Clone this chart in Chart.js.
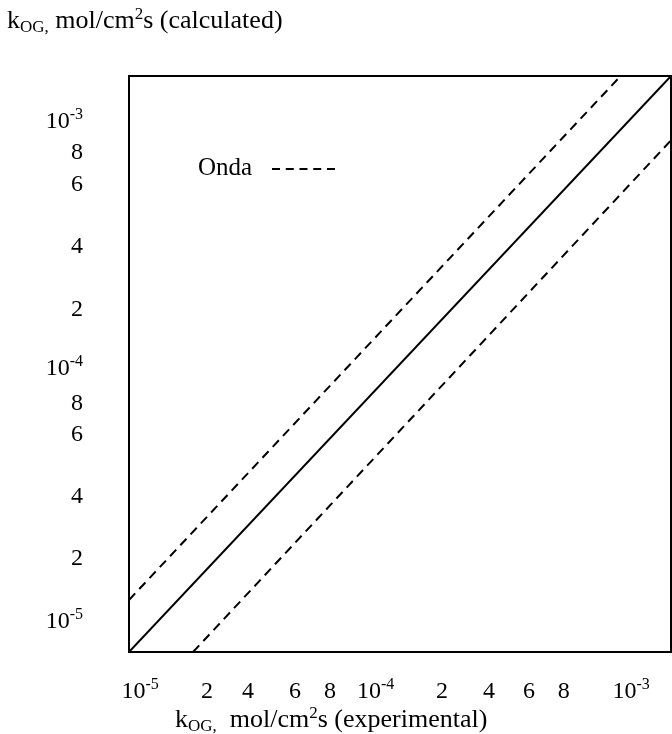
<!DOCTYPE html>
<html>
<head>
<meta charset="utf-8">
<script src="https://cdn.jsdelivr.net/npm/chart.js@4/dist/chart.umd.min.js"></script>
<style>
  body { margin: 0; background: #fff; }
</style>
</head>
<body>
<canvas id="grafico" width="672" height="734"></canvas>
<script>
// eixos log-log, mesma faixa nos dois
const axisMin = 1e-5;
const axisMax = 1.585e-3;

// linha de paridade e faixa de Onda
const paridade = [{ x: 1e-5, y: 1e-5 }, { x: 1.585e-3, y: 1.585e-3 }];
const ondaSup = [{ x: 1e-5, y: 1.58e-5 }, { x: 9.9e-4, y: 1.585e-3 }];
const ondaInf = [{ x: 1.82e-5, y: 1e-5 }, { x: 1.585e-3, y: 9.0e-4 }];

// rotulos dos eixos (onde cada rotulo fica na escala desenhada)
const xTickAt = [1.043e-5, 2.073e-5, 3.041e-5, 4.717e-5, 6.54e-5, 9.42e-5, 1.863e-4, 2.89e-4, 4.2e-4, 5.82e-4, 1.026e-3];
const xTickText = ["10", "2", "4", "6", "8", "10", "2", "4", "6", "8", "10"];
const xTickExp = ["-5", "", "", "", "", "-4", "", "", "", "", "-3"];

const yTickAt = [1.325e-5, 2.307e-5, 3.98e-5, 6.86e-5, 9.01e-5, 1.227e-4, 2.06e-4, 3.59e-4, 6.19e-4, 8.2e-4, 1.077e-3];
const yTickText = ["10", "2", "4", "6", "8", "10", "2", "4", "6", "8", "10"];
const yTickExp = ["-5", "", "", "", "", "-4", "", "", "", "", "-3"];

const serif = "'Liberation Serif', 'Times New Roman', serif";

function escreveRico(ctx, x, y, partes, align) {
  let total = 0;
  partes.forEach(p => {
    ctx.font = p.size + "px " + serif;
    total += ctx.measureText(p.t).width;
  });
  let cx = x;
  if (align === "right") cx = x - total;
  if (align === "center") cx = x - total / 2;
  ctx.textAlign = "left";
  partes.forEach(p => {
    ctx.font = p.size + "px " + serif;
    ctx.fillText(p.t, cx, y + (p.dy || 0));
    cx += ctx.measureText(p.t).width;
  });
}

const desenho = {
  id: "desenho",
  afterDraw(chart) {
    const { ctx, chartArea: a, scales: { x, y } } = chart;
    ctx.save();
    ctx.strokeStyle = "#000";
    ctx.lineWidth = 2;
    ctx.strokeRect(a.left, a.top, a.right - a.left, a.bottom - a.top);

    ctx.fillStyle = "#000";
    ctx.textBaseline = "alphabetic";

    // eixo x
    xTickAt.forEach((v, i) => {
      const px = x.getPixelForValue(v);
      ctx.font = "24px " + serif;
      const w = ctx.measureText(xTickText[i]).width;
      ctx.textAlign = "left";
      ctx.fillText(xTickText[i], px - w / 2, 698);
      if (xTickExp[i]) {
        ctx.font = "16px " + serif;
        ctx.fillText(xTickExp[i], px + w / 2, 689);
      }
    });

    // eixo y
    yTickAt.forEach((v, i) => {
      const py = y.getPixelForValue(v);
      const partes = [{ t: yTickText[i], size: 24 }];
      if (yTickExp[i]) partes.push({ t: yTickExp[i], size: 16, dy: -9 });
      escreveRico(ctx, 83, py + 8, partes, "right");
    });

    // titulos
    escreveRico(ctx, 7, 28, [
      { t: "k", size: 26 },
      { t: "OG,", size: 17, dy: 4 },
      { t: " mol/cm", size: 26 },
      { t: "2", size: 17, dy: -9 },
      { t: "s (calculated)", size: 26 }
    ], "left");
    escreveRico(ctx, 175, 727, [
      { t: "k", size: 26 },
      { t: "OG,", size: 17, dy: 4 },
      { t: "  mol/cm", size: 26 },
      { t: "2", size: 17, dy: -9 },
      { t: "s (experimental)", size: 26 }
    ], "left");

    // legenda
    ctx.font = "25px " + serif;
    ctx.textAlign = "left";
    ctx.fillText(chart.data.datasets[1].label, 198, 175);
    ctx.lineWidth = 2;
    ctx.setLineDash([8, 5.75]);
    ctx.beginPath();
    ctx.moveTo(272, 169);
    ctx.lineTo(335, 169);
    ctx.stroke();
    ctx.restore();
  }
};

new Chart(document.getElementById("grafico"), {
  type: "scatter",
  data: {
    datasets: [
      { label: "paridade", data: paridade, showLine: true, borderColor: "#000", borderWidth: 2, pointRadius: 0 },
      { label: "Onda", data: ondaSup, showLine: true, borderColor: "#000", borderWidth: 2, borderDash: [9, 6], pointRadius: 0 },
      { label: "Onda inf", data: ondaInf, showLine: true, borderColor: "#000", borderWidth: 2, borderDash: [9, 6], pointRadius: 0 }
    ]
  },
  options: {
    responsive: false,
    animation: false,
    layout: { padding: { left: 129, right: 1, top: 76, bottom: 82 } },
    plugins: { legend: { display: false }, tooltip: { enabled: false } },
    scales: {
      x: { type: "logarithmic", min: axisMin, max: axisMax, display: false },
      y: { type: "logarithmic", min: axisMin, max: axisMax, display: false }
    }
  },
  plugins: [desenho]
});
</script>
</body>
</html>
